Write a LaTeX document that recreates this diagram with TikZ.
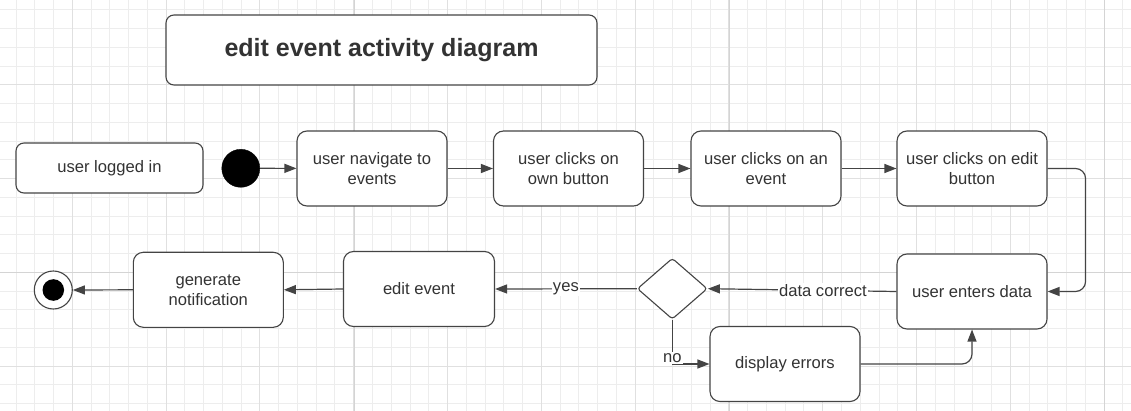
\documentclass[tikz,border=0pt]{standalone}
\usepackage{fontspec}
\setmainfont{Liberation Sans}
\usetikzlibrary{arrows.meta,shapes.geometric}
\definecolor{gminor}{HTML}{EDEDED}
\definecolor{gmed}{HTML}{E0E0E0}
\definecolor{gmaj}{HTML}{D4D4D4}
\definecolor{ink}{HTML}{333333}
\definecolor{edge}{HTML}{444444}
\begin{document}
\begin{tikzpicture}[x=1pt,y=-1pt,
  txt/.style={text=ink,font=\fontsize{16.6}{20}\selectfont},
  act/.style={txt,draw=edge,line width=1.1pt,rounded corners=10pt,fill=white,
    minimum width=150pt,minimum height=75pt,align=center,inner sep=0pt},
  flow/.style={draw=edge,line width=1.2pt,-{Triangle[length=12pt,width=9pt]}},
  lbl/.style={txt,fill=white,inner sep=1pt}]
\useasboundingbox (0,0) rectangle (1131,411);
\fill[white] (0,0) rectangle (1131,411);
% grid
\foreach \i in {0,...,59} \draw[gminor,line width=0.9pt] ({16+18.76*\i},0) -- ({16+18.76*\i},411);
\foreach \i in {0,...,21} \draw[gminor,line width=0.9pt] (0,{9.8+18.75*\i}) -- (1131,{9.8+18.75*\i});
\foreach \i in {0,...,11} \draw[gmed,line width=0.9pt] ({72.3+93.8*\i},0) -- ({72.3+93.8*\i},411);
\foreach \y in {84.8,178.5,366} \draw[gmed,line width=0.9pt] (0,\y) -- (1131,\y);
\foreach \x in {354,729,1104} \draw[gmaj,line width=1pt] (\x,0) -- (\x,411);
\draw[gmaj,line width=1pt] (0,272.3) -- (1131,272.3);
% title
\node[act,minimum width=431pt,minimum height=70pt,rounded corners=8pt,
  font=\fontsize{25}{29}\selectfont\bfseries] (title) at (381.5,50) {edit event activity diagram};
% top row
\node[act,minimum width=187pt,minimum height=50pt,rounded corners=8pt] (logged) at (109.5,168) {user logged in};
\node[circle,fill=black,draw=black,minimum size=38pt,inner sep=0pt] (init) at (240.8,168.3) {};
\node[act] (a1) at (372,168.5) {user navigate to\\events};
\node[act] (a2) at (568.5,168.5) {user clicks on\\own button};
\node[act] (a3) at (766,168.5) {user clicks on an\\event};
\node[act] (a4) at (972,168.5) {user clicks on edit\\button};
% bottom row
\node[act] (de) at (972,291.5) {user enters data};
\node[diamond,draw=edge,line width=1.1pt,fill=white,rounded corners=3pt,
  minimum width=70pt,minimum height=61pt,inner sep=0pt] (dia) at (672.3,288.7) {};
\node[act] (err) at (785,364) {display errors};
\node[act,minimum width=151pt] (ee) at (419,289) {edit event};
\node[act] (gn) at (208.3,289.8) {generate\\notification};
\node[circle,draw=edge,line width=1.1pt,fill=white,minimum size=38pt,inner sep=0pt] (fin) at (53.3,290) {};
\fill[black] (fin.center) circle[radius=10.8pt];
% connectors
\draw[flow] (init) -- (a1);
\draw[flow] (a1) -- (a2);
\draw[flow] (a2) -- (a3);
\draw[flow] (a3) -- (a4);
\draw[flow,rounded corners=10pt] (a4.east) -- ++(38,0) |- (de.east);
\draw[flow] (de.west) -- node[lbl,pos=0.39] {data correct} (dia.east);
\draw[flow] (dia.west) -- node[lbl,pos=0.5] {yes} (ee.east);
\draw[flow] (dia.south) |- node[lbl,pos=0.5,yshift=6pt] {no} (err.west);
\draw[flow,rounded corners=10pt] (err.east) -| (de.south);
\draw[flow] (ee.west) -- (gn.east);
\draw[flow] (gn.west) -- (fin.east);
\end{tikzpicture}
\end{document}
